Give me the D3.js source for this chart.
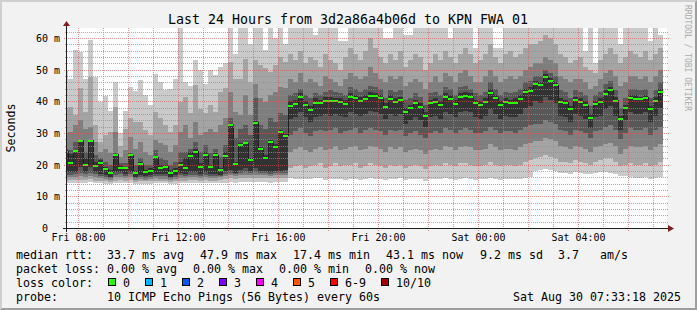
<!DOCTYPE html>
<html>
<head>
<meta charset="utf-8">
<script src="https://cdn.jsdelivr.net/npm/d3@7"></script>
<style>
  html, body { margin: 0; padding: 0; background: #f2f2f2; }
  svg { display: block; }
  text { font-family: "DejaVu Sans Mono", monospace; fill: #000; }
</style>
</head>
<body>
<div id="chart"></div>
<script>
// 12 minute buckets, first one starts Fri 07:24 (clipped by the graph start)
const medianRtt = [24.1,
  20.4, 24.3, 27.5, 20.0, 27.5, 19.6, 20.6, 18.6, 17.4, 23.1, 19.0, 19.0, 23.0, 17.4, 20.3, 17.6, 18.0, 22.4, 19.0, 19.3, 17.4, 18.0,
  20.0, 19.0, 22.7, 24.1, 19.3, 23.0, 19.3, 23.0, 18.2, 22.7, 32.6, 20.3, 26.1, 26.8, 21.4, 33.2, 25.1, 22.0, 27.2, 25.6, 30.2, 29.1,
  38.6, 39.1, 41.4, 38.8, 37.3, 39.5, 39.5, 40.1, 40.1, 40.1, 39.9, 39.2, 41.4, 41.1, 40.1, 40.8, 41.7, 41.7, 41.1, 38.3, 40.8, 39.9,
  40.4, 36.7, 37.9, 39.5, 38.3, 35.4, 39.5, 39.9, 38.8, 41.4, 40.7, 39.2, 41.4, 41.7, 41.4, 39.5, 38.8, 39.9, 42.7, 41.1, 38.8, 39.9,
  39.5, 39.6, 40.8, 43.0, 43.3, 45.5, 45.1, 47.6, 46.4, 45.1, 39.9, 39.5, 37.5, 40.5, 39.9, 38.8, 34.8, 39.1, 39.9, 42.4, 43.6, 40.2,
  34.4, 37.9, 41.1, 40.8, 40.8, 41.1, 37.5, 40.1, 43.0];

// sorted pings per bucket, ping1 = fastest ... ping10 = slowest
const ping10 = [50, 47.2, 56.2, 55.6, 47.2, 59.3, 47.7, 39.8, 41.6, 37.0, 46.2, 30.0, 37.0, 44.5, 43.3, 46.6, 42.1, 38.7, 48.5, 46.0,
  43.5, 44.0, 47.0, 64.0, 46.0, 45.0, 53.0, 50.0, 45.5, 49.8, 48.3, 51.0, 52.0, 66.0, 55.0, 66.0, 66.0, 58.0, 66.0, 66.0, 56.2, 66.0,
  60.0, 66.0, 58.0,
  64, 66, 66, 65, 66, 61, 66, 66, 65, 66, 59, 59, 66, 65, 66, 66, 66, 65, 66, 60, 60, 66, 65, 61, 61, 66, 66, 65, 66, 66, 65, 66, 60,
  66, 66, 65, 66, 57, 66, 66, 65, 57, 57, 66, 66, 65, 66, 66, 66, 66, 65, 66, 66, 66, 65, 66, 66, 65, 66, 56, 66, 52, 66, 66, 65, 66,
  58, 66, 66, 65, 66, 66, 59, 66, 61];
const ping9 = [38, 38.3, 35.6, 44.1, 36.7, 47.7, 32.5, 27.2, 29.3, 30.4, 38.3, 26.0, 31.4, 34.6, 33.5, 33.5, 30.9, 29.3, 36.7, 34.6,
  32.5, 30.4, 32.5, 39.8, 41.4, 36.2, 45.1, 37.7, 36.2, 38.8, 36.7, 43.0, 44.1, 52.5, 47.2, 47.2, 53.5, 46.2, 53.0, 51.4, 50.4, 49.3,
  51.4, 54.0, 52.5,
  55, 53, 56, 52, 54, 53, 51, 55, 53, 52, 50, 54, 57, 55, 53, 56, 60, 57, 54, 52, 55, 53, 56, 51, 53, 55, 54, 50, 52, 55, 53, 56, 54,
  52, 55, 57, 55, 52, 53, 55, 58, 54, 52, 55, 56, 54, 55, 57, 58, 58, 59, 61, 60, 58, 55, 54, 52, 53, 54, 51, 50, 49, 53, 55, 57, 55,
  52, 54, 56, 55, 54, 56, 53, 55, 57];
const ping8 = [30, 30.4, 32.5, 34.1, 31.4, 32.0, 27.2, 24.1, 25.1, 23.6, 30.4, 22.5, 24.6, 28.8, 25.1, 27.2, 24.1, 23.0, 27.8, 26.7,
  26.2, 24.1, 26.2, 30.4, 32.5, 28.3, 33.5, 29.3, 30.4, 31.4, 30.4, 32.5, 34.6, 43.0, 36.7, 35.6, 42.0, 35.6, 45.6, 40.9, 39.8, 42.0,
  43.0, 44.6, 44.1,
  47, 46, 49, 46, 47, 46, 45, 48, 47, 46, 45, 47, 49, 48, 47, 48, 51, 49, 47, 46, 48, 47, 48, 45, 46, 47, 46, 44, 46, 48, 46, 49, 48,
  46, 49, 50, 48, 46, 46, 48, 50, 48, 46, 47, 48, 47, 48, 50, 51, 52, 52, 54, 53, 52, 48, 47, 46, 47, 47, 46, 44, 45, 47, 49, 50, 48,
  45, 46, 48, 48, 47, 48, 46, 48, 50];
const ping7 = [25, 24.6, 27.2, 27.9, 24.1, 27.9, 23.0, 22.0, 21.0, 19.9, 23.6, 20.4, 20.4, 23.6, 19.9, 22.0, 19.9, 19.9, 24.6, 22.0,
  21.5, 19.9, 21.0, 24.0, 24.1, 25.1, 27.2, 24.1, 26.2, 23.6, 25.1, 22.5, 26.2, 34.6, 28.3, 31.4, 32.5, 29.3, 40.9, 32.5, 31.4, 34.6,
  33.5, 36.2, 35.6,
  42, 42.5, 44, 42, 41, 42.5, 42, 43, 43.5, 43, 42.5, 42, 44.5, 44, 43, 44, 45, 44.5, 44, 41, 43.5, 43, 43.5, 40.5, 41, 42.5, 41.5,
  39, 42.5, 43, 42, 44.5, 44, 42, 44.5, 45, 44, 42.5, 42, 43, 46, 44, 42, 43, 42.5, 43, 44, 46, 46.5, 48, 48, 50, 49, 48, 43.5, 43,
  41, 43.5, 43, 42, 38.5, 42, 43, 45.5, 46.5, 43.5, 38, 41, 44, 44, 43.5, 44, 41, 43.5, 46];
const ping6 = [24.5, 23.5, 24.6, 27.8, 22.0, 27.8, 21.0, 21.5, 19.4, 18.3, 23.4, 19.9, 19.4, 23.3, 17.9, 21.0, 18.3, 18.8, 22.8,
  19.9, 19.9, 18.3, 18.8, 21.0, 22.0, 24.1, 25.0, 20.4, 24.1, 19.9, 23.6, 18.8, 24.1, 33.0, 21.0, 26.7, 27.2, 22.0, 33.8, 25.7, 23.0,
  27.8, 26.5, 31.0, 29.8,
  40.0, 40.5, 42.5, 40.0, 38.5, 41.0, 40.5, 41.5, 41.5, 41.0, 41.0, 40.5, 42.5, 42.0, 41.5, 42.0, 43.0, 42.5, 42.0, 39.5, 42.0, 41.0,
  41.5, 38.0, 39.0, 40.5, 39.5, 36.5, 40.5, 41.0, 40.0, 42.5, 42.0, 40.5, 42.5, 43.0, 42.5, 40.5, 40.0, 41.0, 44.0, 42.0, 40.0, 41.0,
  40.5, 41.0, 42.0, 44.0, 44.5, 46.5, 46.0, 48.5, 47.5, 46.0, 41.0, 40.5, 38.5, 41.5, 41.0, 40.0, 36.0, 40.0, 41.0, 43.5, 44.5, 41.5,
  35.5, 39.0, 42.0, 42.0, 41.5, 42.0, 38.5, 41.5, 44.0];
const ping5 = [18, 17.8, 17.8, 19.4, 17.8, 19.4, 17.8, 17.2, 16.7, 16.2, 17.8, 17.8, 17.2, 17.8, 16.2, 16.7, 16.5, 16.7, 17.2, 17.0,
  17.0, 16.2, 16.7, 17.5, 17.2, 17.8, 17.8, 17.2, 17.8, 17.2, 17.2, 16.7, 18.0, 18.3, 17.5, 18.2, 18.8, 18.0, 18.8, 18.0, 18.0, 17.8,
  18.0, 18.0, 18.2,
  34.5, 35.0, 36.5, 35.0, 33.5, 35.0, 35.5, 36.0, 35.5, 36.0, 35.5, 35.0, 36.5, 36.0, 35.5, 36.0, 37.0, 36.5, 36.0, 34.5, 36.0, 35.5,
  36.0, 33.0, 34.0, 35.0, 34.0, 32.0, 35.0, 35.5, 34.5, 36.5, 36.0, 35.0, 36.5, 37.0, 36.5, 35.0, 34.5, 35.5, 37.5, 36.0, 34.5, 35.5,
  35.0, 35.0, 36.0, 38.0, 38.5, 40.0, 39.5, 41.5, 40.5, 39.5, 35.5, 35.0, 33.5, 36.0, 35.5, 34.5, 31.5, 35.0, 35.5, 37.5, 38.5, 35.5,
  31.0, 34.0, 36.5, 36.0, 36.0, 36.5, 33.5, 35.5, 38.0];
const ping4 = [16.8, 16.8, 17.0, 17.5, 16.9, 17.5, 16.9, 16.5, 16.1, 15.7, 16.8, 16.9, 16.5, 16.9, 15.7, 16.1, 15.9, 16.0, 16.5, 16.3,
  16.3, 15.7, 16.0, 16.6, 16.5, 16.8, 16.8, 16.5, 16.8, 16.5, 16.5, 16.4, 17.2, 17.4, 17.0, 17.3, 17.6, 17.3, 17.6, 17.3, 17.3, 17.2,
  17.3, 17.3, 17.4,
  29.5, 30.5, 31.5, 30.0, 29.0, 30.5, 31.0, 30.5, 31.0, 31.5, 30.0, 30.5, 31.0, 31.5, 30.0, 31.0, 31.5, 31.0, 30.5, 29.5, 31.0, 30.5,
  31.0, 29.0, 30.0, 30.5, 29.5, 28.5, 30.0, 30.5, 30.0, 31.5, 31.0, 30.0, 31.0, 31.5, 31.0, 30.0, 30.0, 30.5, 32.0, 31.0, 30.0, 30.5,
  30.5, 30.0, 31.0, 32.0, 32.5, 33.0, 33.0, 34.0, 33.5, 33.0, 31.0, 30.5, 29.5, 31.0, 30.5, 30.0, 28.5, 30.5, 31.0, 32.0, 32.5, 31.0,
  28.0, 30.0, 31.5, 31.0, 31.0, 31.5, 29.5, 31.0, 32.0];
const ping3 = [16, 16.0, 16.1, 16.4, 16.0, 16.4, 16.0, 15.8, 15.5, 15.2, 16.0, 16.1, 15.8, 16.0, 15.2, 15.5, 15.3, 15.4, 15.8, 15.6,
  15.6, 15.2, 15.4, 15.8, 15.8, 16.0, 16.0, 15.8, 16.0, 15.8, 15.8, 16.0, 16.5, 16.6, 16.4, 16.6, 16.7, 16.6, 16.7, 16.6, 16.6, 16.5,
  16.6, 16.6, 16.6,
  24.0, 25.0, 25.5, 24.5, 24.0, 25.0, 25.5, 24.5, 25.0, 26.0, 24.5, 25.0, 25.5, 26.0, 24.5, 25.0, 26.0, 25.5, 25.0, 24.0, 25.5, 25.0,
  25.5, 24.0, 24.5, 25.0, 24.5, 23.5, 24.5, 25.0, 24.5, 26.0, 25.5, 24.5, 25.5, 26.0, 25.5, 24.5, 24.5, 25.0, 26.5, 25.5, 24.5, 25.0,
  25.0, 24.5, 25.5, 26.5, 27.0, 27.5, 27.5, 28.5, 28.0, 27.5, 26.0, 25.5, 25.0, 26.0, 25.5, 25.0, 24.0, 25.5, 26.0, 26.5, 27.0, 26.0,
  23.5, 25.0, 26.0, 25.5, 25.5, 26.0, 24.5, 25.5, 26.5];
const ping2 = [15, 15.1, 15.2, 15.3, 15.1, 15.4, 15.0, 15.0, 14.8, 14.6, 15.0, 15.2, 15.0, 15.1, 14.6, 14.8, 14.7, 14.7, 15.0, 14.9,
  14.9, 14.6, 14.8, 15.0, 15.0, 15.1, 15.1, 15.0, 15.1, 15.0, 15.0, 15.3, 15.6, 15.8, 15.6, 15.8, 15.9, 15.8, 15.9, 15.8, 15.8, 15.7,
  15.8, 15.8, 15.9,
  19.0, 19.5, 20.0, 19.0, 19.5, 20.0, 20.5, 19.0, 19.5, 20.5, 19.5, 20.0, 20.0, 20.5, 19.0, 19.5, 20.5, 20.0, 19.5, 19.0, 20.0, 19.5,
  20.0, 19.0, 19.5, 20.0, 19.5, 18.5, 19.5, 20.0, 19.5, 20.5, 20.0, 19.5, 20.5, 20.5, 20.0, 19.5, 19.5, 20.0, 21.0, 20.0, 19.5, 20.0,
  20.0, 19.5, 20.0, 21.0, 21.5, 22.0, 22.5, 23.0, 22.5, 22.0, 21.0, 21.0, 20.5, 21.5, 21.0, 20.5, 20.0, 21.0, 21.5, 22.0, 22.0, 21.0,
  19.5, 20.0, 20.5, 20.0, 20.0, 20.5, 19.5, 20.0, 21.0];
const ping1 = [14.2, 14.2, 14.3, 14.3, 14.1, 14.4, 14.1, 14.2, 14.0, 13.9, 14.1, 14.3, 14.2, 14.2, 13.9, 14.0, 14.0, 14.0, 14.1, 14.1,
  14.1, 13.9, 14.0, 14.2, 14.2, 14.2, 14.2, 14.2, 14.2, 14.2, 14.2, 14.2, 14.3, 14.4, 14.3, 14.4, 14.5, 14.4, 14.5, 14.4, 14.4, 14.3,
  14.4, 14.4, 14.5,
  15.8, 15.5, 15.6, 15.4, 15.5, 15.7, 15.8, 15.3, 15.4, 15.6, 15.5, 15.2, 15.4, 15.6, 15.3, 15.5, 15.8, 15.6, 15.4, 15.2, 15.5, 15.6,
  15.7, 15.3, 15.4, 15.6, 15.5, 15.0, 15.4, 15.6, 15.5, 15.7, 15.6, 15.3, 15.6, 15.8, 15.5, 15.3, 15.4, 15.6, 15.9, 15.5, 15.3, 15.5,
  15.6, 15.4, 15.5, 15.8, 16.0, 18.0, 18.3, 18.5, 18.2, 18.0, 17.5, 17.3, 17.0, 17.6, 17.4, 17.2, 17.0, 17.5, 17.6, 17.8, 17.5, 17.0,
  16.5, 16.3, 16.0, 15.8, 15.9, 16.0, 15.6, 15.8, 16.0];

const yTicks = [0, 10, 20, 30, 40, 50, 60];
const yTickLabels = ['0\u00a0\u00a0', '10 m', '20 m', '30 m', '40 m', '50 m', '60 m'];

const lossLabels = ['0', '1', '2', '3', '4', '5', '6-9', '10/10'];
const lossColors = ['#26ff00', '#00b8ff', '#0059ff', '#7e00ff', '#ff00ff', '#ff5500', '#ff0000', '#a10000'];

const rttStats = [['33.7 ms avg', 107], ['47.9 ms max', 200], ['17.4 ms min', 293], ['43.1 ms now', 386],
  ['9.2 ms sd', 480], ['3.7', 558], ['am/s', 600]];
const lossStats = [['0.00 % avg', 107], ['0.00 % max', 193], ['0.00 % min', 279], ['0.00 % now', 365]];

const pings = [ping1, ping2, ping3, ping4, ping5, ping6, ping7, ping8, ping9, ping10];
pings.concat([medianRtt]).forEach((p, i) => {
    if (p.length !== 120) throw new Error('series ' + i + ' has ' + p.length + ' values');
});

const W = 697, H = 310;
const plotL = 67, plotR = 667, plotT = 28, plotB = 228;
const step = 12 * 60 * 1000;
const endTime = Date.UTC(2025, 7, 30, 7, 33, 18);
const startTime = endTime - 24 * 3600 * 1000;
const firstBucket = Date.UTC(2025, 7, 29, 7, 24);

const smokeColors = ['#cacaca', '#a4a4a4', '#7e7e7e', '#585858', '#323232'];

const x = d3.scaleUtc().domain([startTime, endTime]).range([plotL, plotR]);
const y = d3.scaleLinear().domain([0, 63.16]).range([plotB, plotT]);

const cols = medianRtt.map((m, i) => {
    const t0 = firstBucket + i * step;
    return {
        x0: Math.max(plotL, x(t0)),
        x1: Math.min(plotR, x(t0 + step)),
        m: m,
        p: pings.map((s) => s[i]),
    };
});

const svg = d3.select('#chart').append('svg')
    .attr('width', W)
    .attr('height', H)
    .attr('viewBox', '0 0 ' + W + ' ' + H);

svg.append('rect').attr('width', W).attr('height', H).attr('fill', '#f2f2f2');
// 3d border
svg.append('path').attr('d', `M0,${H}L2,${H - 2}L2,2L${W - 2},2L${W},0L0,0Z`).attr('fill', '#cfcfcf');
svg.append('path').attr('d', `M2,${H - 2}L${W - 2},${H - 2}L${W - 2},2L${W},0L${W},${H}L0,${H}Z`).attr('fill', '#9e9e9e');

svg.append('defs').append('clipPath').attr('id', 'canvas')
    .append('rect').attr('x', plotL).attr('y', plotT).attr('width', plotR - plotL).attr('height', plotB - plotT);

svg.append('rect')
    .attr('x', plotL).attr('y', plotT)
    .attr('width', plotR - plotL).attr('height', plotB - plotT)
    .attr('fill', '#ffffff');

const plot = svg.append('g').attr('clip-path', 'url(#canvas)').attr('shape-rendering', 'crispEdges');

// smoke, outer band first
smokeColors.forEach((c, i) => {
    plot.append('g').selectAll('rect')
        .data(cols)
        .join('rect')
        .attr('x', (d) => d.x0)
        .attr('width', (d) => d.x1 - d.x0)
        .attr('y', (d) => y(d.p[9 - i]))
        .attr('height', (d) => y(d.p[i]) - y(d.p[9 - i]))
        .attr('fill', c);
});

// median line
const pts = cols.map((d) => [d.x0, y(d.m)]);
pts.push([cols[cols.length - 1].x1, y(cols[cols.length - 1].m)]);
plot.append('path')
    .attr('d', d3.line().curve(d3.curveStepAfter)(pts))
    .attr('fill', 'none')
    .attr('stroke', '#202020')
    .attr('stroke-width', 1);

plot.append('g').selectAll('rect')
    .data(cols)
    .join('rect')
    .attr('x', (d) => d.x0)
    .attr('width', (d) => d.x1 - d.x0)
    .attr('y', (d) => y(d.m) - 1)
    .attr('height', 2)
    .attr('fill', lossColors[0]);

// grid
const grid = svg.append('g').attr('stroke-dasharray', '1,1').attr('stroke-width', 1).attr('shape-rendering', 'crispEdges');
const minorColor = 'rgba(143,143,143,0.75)', majorColor = 'rgba(222,79,79,0.6)';

const yMinor = d3.range(2, 63, 2).filter((v) => v % 10 !== 0);
grid.selectAll('.ymin').data(yMinor).join('line')
    .attr('x1', plotL - 2).attr('x2', plotR + 2)
    .attr('y1', (d) => Math.round(y(d)) + 0.5).attr('y2', (d) => Math.round(y(d)) + 0.5)
    .attr('stroke', minorColor);
grid.selectAll('.ymaj').data(yTicks.slice(1)).join('line')
    .attr('x1', plotL - 3).attr('x2', plotR + 2)
    .attr('y1', (d) => Math.round(y(d)) + 0.5).attr('y2', (d) => Math.round(y(d)) + 0.5)
    .attr('stroke', majorColor);

const hours = d3.utcHour.range(startTime, endTime);
grid.selectAll('.xmin').data(hours.filter((d) => d.getUTCHours() % 2 !== 0)).join('line')
    .attr('x1', (d) => Math.round(x(d)) + 0.5).attr('x2', (d) => Math.round(x(d)) + 0.5)
    .attr('y1', plotT).attr('y2', plotB + 2)
    .attr('stroke', minorColor);
grid.selectAll('.xmaj').data(hours.filter((d) => d.getUTCHours() % 2 === 0)).join('line')
    .attr('x1', (d) => Math.round(x(d)) + 0.5).attr('x2', (d) => Math.round(x(d)) + 0.5)
    .attr('y1', plotT).attr('y2', plotB + 3)
    .attr('stroke', majorColor);

// axes
const axisCol = '#1f1f1f', arrowCol = '#801f1f';
svg.append('line').attr('x1', plotL - 4).attr('x2', plotR + 2).attr('y1', plotB + 0.5).attr('y2', plotB + 0.5)
    .attr('stroke', axisCol);
svg.append('line').attr('x1', plotL - 0.5).attr('x2', plotL - 0.5).attr('y1', plotB + 4).attr('y2', plotT - 2)
    .attr('stroke', axisCol);
svg.append('path').attr('d', `M${plotR + 1},${plotB - 3}L${plotR + 7},${plotB + 0.5}L${plotR + 1},${plotB + 4}Z`)
    .attr('fill', arrowCol);
svg.append('path').attr('d', `M${plotL - 4},${plotT - 2}L${plotL - 0.5},${plotT - 7}L${plotL + 3},${plotT - 2}Z`)
    .attr('fill', arrowCol);

// tick labels
svg.append('g').selectAll('text').data(yTicks).join('text')
    .attr('x', 60)
    .attr('y', (d) => Math.round(y(d)) + 3.8)
    .attr('text-anchor', 'end')
    .style('font-size', '9.97px')
    .text((d, i) => yTickLabels[i]);

const fmt = d3.utcFormat('%a %H:%M');
svg.append('g').selectAll('text').data(d3.utcHour.every(4).range(startTime, endTime)).join('text')
    .attr('x', (d) => x(d) + 0.5)
    .attr('y', 240.5)
    .attr('text-anchor', 'middle')
    .style('font-size', '9.97px')
    .text((d) => fmt(d));

// title and unit label
svg.append('text')
    .attr('x', 348).attr('y', 24)
    .attr('text-anchor', 'middle')
    .style('font-size', '13.29px')
    .text('Last 24 Hours from 3d2a86a4b06d to KPN FWA 01');

svg.append('text')
    .attr('transform', 'translate(15,128) rotate(-90)')
    .attr('text-anchor', 'middle')
    .style('font-size', '11.63px')
    .text('Seconds');

svg.append('text')
    .attr('transform', 'translate(685,5) rotate(90)')
    .style('font-size', '8px')
    .style('fill', '#aaaaaa')
    .text('RRDTOOL / TOBI OETIKER');

// legend
const legend = svg.append('g').style('font-size', '11.63px').attr('xml:space', 'preserve');
const rows = [258.5, 272.5, 286.5, 300.5];
legend.append('text').attr('x', 16).attr('y', rows[0]).text('median rtt:');
legend.selectAll('.rtt').data(rttStats).join('text')
    .attr('x', (d) => d[1]).attr('y', rows[0]).text((d) => d[0]);
legend.append('text').attr('x', 16).attr('y', rows[1]).text('packet loss:');
legend.selectAll('.loss').data(lossStats).join('text')
    .attr('x', (d) => d[1]).attr('y', rows[1]).text((d) => d[0]);
legend.append('text').attr('x', 16).attr('y', rows[2]).text('loss color:');

let bx = 108.5;
lossLabels.forEach((l, i) => {
    legend.append('rect')
        .attr('x', bx).attr('y', 278.5)
        .attr('width', 7).attr('height', 7)
        .attr('fill', lossColors[i])
        .attr('stroke', '#000');
    legend.append('text').attr('x', bx + 14.5).attr('y', rows[2]).text(l);
    bx += 30 + 7 * l.length;
});

legend.append('text').attr('x', 16).attr('y', rows[3]).text('probe:');
legend.append('text').attr('x', 107).attr('y', rows[3]).text('10 ICMP Echo Pings (56 Bytes) every 60s');
legend.append('text').attr('x', 681).attr('y', rows[3]).attr('text-anchor', 'end').text('Sat Aug 30 07:33:18 2025');
</script>
</body>
</html>
